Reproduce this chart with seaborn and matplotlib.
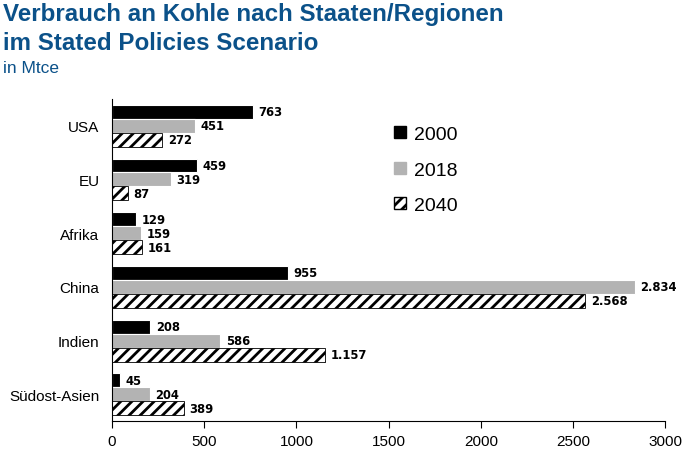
import pandas as pd
import matplotlib.pyplot as plt
import seaborn as sns
from matplotlib.patches import Patch

# Daten
regionen = ["USA", "EU", "Afrika", "China", "Indien", "Südost-Asien"]
jahre = ["2000", "2018", "2040"]
werte_2000 = [763, 459, 129, 955, 208, 45]
werte_2018 = [451, 319, 159, 2834, 586, 204]
werte_2040 = [272, 87, 161, 2568, 1157, 389]

df = pd.DataFrame({
    "Region": regionen * 3,
    "Jahr": [j for j in jahre for _ in regionen],
    "Wert": werte_2000 + werte_2018 + werte_2040,
})

sns.set_theme(style="white")
plt.rcParams['font.family'] = ['Liberation Sans', 'DejaVu Sans']
plt.rcParams['text.color'] = 'black'
plt.rcParams['xtick.color'] = 'black'
plt.rcParams['ytick.color'] = 'black'
plt.rcParams['hatch.linewidth'] = 2.0

blau = '#0b5189'
farben = {"2000": "black", "2018": "#b3b3b3", "2040": "white"}

fig = plt.figure(figsize=(6.85, 4.52), dpi=100, facecolor='white')
ax = fig.add_axes([0.1635, 0.066, 0.8075, 0.713])

sns.barplot(data=df, y="Region", x="Wert", hue="Jahr", hue_order=jahre,
            order=regionen, palette=farben, orient='h', width=0.78,
            edgecolor='white', linewidth=0.8, legend=False, ax=ax)

for jahr, cont in zip(jahre, ax.containers):
    for bar in cont:
        if jahr == "2040":
            bar.set_hatch('///')
            bar.set_edgecolor('black')
            bar.set_linewidth(0.6)
    labels = [f"{v:,.0f}".replace(",", ".") for v in cont.datavalues]
    ax.bar_label(cont, labels=labels, padding=4, fontsize=9.3, fontweight='bold',
                 family='DejaVu Sans', fontstretch='condensed')

ax.set_xlim(0, 3000)
ax.set_xticks([0, 500, 1000, 1500, 2000, 2500, 3000])
ax.set_ylim(5.5, -0.5)
ax.set_xlabel("")
ax.set_ylabel("")
ax.tick_params(axis='x', labelsize=11, length=5, width=0.8, direction='out', bottom=True, pad=4)
ax.tick_params(axis='y', labelsize=11, length=0, pad=9)
for s in ['top', 'right']:
    ax.spines[s].set_visible(False)
for s in ['left', 'bottom']:
    ax.spines[s].set_color('black')
    ax.spines[s].set_linewidth(0.8)

handles = [Patch(facecolor=farben[j], edgecolor='black' if j == "2040" else farben[j],
                 hatch='///' if j == "2040" else None, label=j) for j in jahre]
ax.legend(handles=handles, loc='upper left', bbox_to_anchor=(0.479, 0.97), frameon=False,
          fontsize=14, handlelength=0.6, handleheight=0.6, handletextpad=0.4,
          labelspacing=0.95)

fig.text(0.004, 0.993, "Verbrauch an Kohle nach Staaten/Regionen\nim Stated Policies Scenario",
         fontsize=17.4, fontweight='bold', color=blau, va='top', ha='left', linespacing=1.3)
fig.text(0.004, 0.866, "in Mtce", fontsize=12.5, color=blau, va='top', ha='left')

plt.savefig("out.png", dpi=100, facecolor='white')
